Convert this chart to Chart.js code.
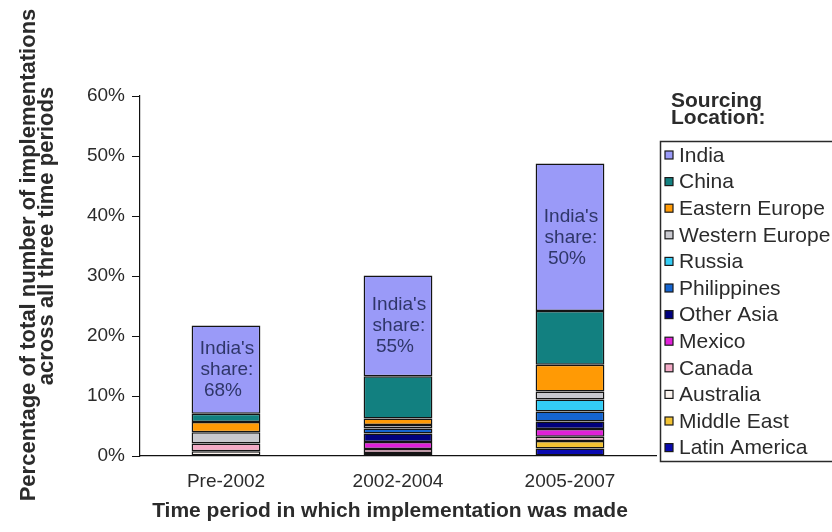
<!DOCTYPE html>
<html>
<head>
<meta charset="utf-8">
<script src="https://cdn.jsdelivr.net/npm/chart.js@4.4.0/dist/chart.umd.min.js"></script>
<style>
  html, body { margin: 0; padding: 0; background: #ffffff; }
  canvas { display: block; }
</style>
</head>
<body>
<canvas id="chart" width="832" height="532"></canvas>
<script>
// Time periods on the x axis
const periods = ['Pre-2002', '2002-2004', '2005-2007'];

// Share of all implementations (percent), one array per sourcing location
const latinAmerica  = [0,    0,    1.25];
const middleEast    = [0,    0,    1.25];
const australia     = [0.8,  0.5,  0];
const canada        = [1.3,  0.65, 0.7];
const mexico        = [0,    1.2,  1.3];
const otherAsia     = [0,    1.4,  1.25];
const philippines   = [0,    0.85, 1.65];
const russia        = [0,    0,    2.0];
const westernEurope = [1.85, 0.55, 1.35];
const easternEurope = [1.7,  1.1,  4.45];
const china         = [1.4,  7.05, 8.95];
const india         = [14.7, 16.8, 24.6];

// India's share of each period, as printed on the bars
const indiaShare = ['68%', '55%', '50%'];

// Y axis ticks
const yTicks = [0, 10, 20, 30, 40, 50, 60];

// Stack order, bottom to top
const series = [
  { name: 'Latin America',  values: latinAmerica,  color: '#0a0ab0' },
  { name: 'Middle East',    values: middleEast,    color: '#f2c233' },
  { name: 'Australia',      values: australia,     color: '#fbf3ee' },
  { name: 'Canada',         values: canada,        color: '#f3aac6' },
  { name: 'Mexico',         values: mexico,        color: '#e020d8' },
  { name: 'Other Asia',     values: otherAsia,     color: '#00007e' },
  { name: 'Philippines',    values: philippines,   color: '#1464d0' },
  { name: 'Russia',         values: russia,        color: '#33ccf5' },
  { name: 'Western Europe', values: westernEurope, color: '#c9c9cf' },
  { name: 'Eastern Europe', values: easternEurope, color: '#ff9a05' },
  { name: 'China',          values: china,         color: '#128080' },
  { name: 'India',          values: india,         color: '#9a9af8' }
];

const FONT = "'Liberation Sans', Arial, Helvetica, sans-serif";
const TEXT = '#2b2b2b';

const datasets = series.map(s => ({
  label: s.name,
  data: s.values.map(v => (v > 0 ? v : null)),
  backgroundColor: s.color,
  borderColor: '#141414',
  borderWidth: 1.5,
  borderSkipped: false,
  barPercentage: 0.4,
  categoryPercentage: 1.0
}));

// Axis titles, legend panel and the India share notes
const annotations = {
  id: 'annotations',
  afterDraw(chart) {
    const ctx = chart.ctx;
    ctx.save();

    // Y axis title (two lines, rotated)
    ctx.fillStyle = TEXT;
    ctx.font = `bold 22px ${FONT}`;
    ctx.textAlign = 'center';
    ctx.textBaseline = 'middle';
    ctx.save();
    ctx.translate(29, 255);
    ctx.rotate(-Math.PI / 2);
    ctx.fillText('Percentage of total number of implementations', 0, 0);
    ctx.restore();
    ctx.save();
    ctx.translate(47, 236);
    ctx.rotate(-Math.PI / 2);
    ctx.fillText('across all three time periods', 0, 0);
    ctx.restore();

    // X axis title
    ctx.font = `bold 21px ${FONT}`;
    ctx.fillText('Time period in which implementation was made', 390, 511);

    // Legend heading
    ctx.font = `bold 21px ${FONT}`;
    ctx.textAlign = 'left';
    ctx.textBaseline = 'alphabetic';
    ctx.fillText('Sourcing', 671, 107);
    ctx.fillText('Location:', 671, 124);

    // Legend frame
    ctx.strokeStyle = '#2a2a2a';
    ctx.lineWidth = 1.5;
    ctx.strokeRect(660.5, 141.5, 200, 320);

    // Legend entries, top of the stack first
    const entries = chart.data.datasets.slice().reverse();
    ctx.font = `21px ${FONT}`;
    ctx.textBaseline = 'middle';
    entries.forEach((ds, i) => {
      const y = 155 + i * 26.6;
      ctx.fillStyle = ds.backgroundColor;
      ctx.fillRect(665, y - 4, 8, 8);
      ctx.strokeStyle = '#1a1a1a';
      ctx.lineWidth = 1.2;
      ctx.strokeRect(665, y - 4, 8, 8);
      ctx.fillStyle = TEXT;
      ctx.fillText(ds.label, 679, y + 1);
    });

    // India's share inside each India segment
    const idx = chart.data.datasets.findIndex(d => d.label === 'India');
    const meta = chart.getDatasetMeta(idx);
    ctx.fillStyle = '#2f3669';
    ctx.font = `19px ${FONT}`;
    ctx.textAlign = 'center';
    meta.data.forEach((bar, i) => {
      const mid = (bar.y + bar.base) / 2;
      const lines = ["India's", 'share:', indiaShare[i]];
      lines.forEach((t, k) => {
        ctx.fillText(t, bar.x + (k === 2 ? -3 : 1), mid + (k - 1) * 21);
      });
    });

    ctx.restore();
  }
};

new Chart(document.getElementById('chart'), {
  type: 'bar',
  data: { labels: periods, datasets },
  options: {
    responsive: false,
    animation: false,
    devicePixelRatio: 1,
    layout: { padding: { left: 0, top: 96, right: 176, bottom: 0 } },
    plugins: {
      legend: { display: false },
      tooltip: { enabled: false }
    },
    scales: {
      x: {
        stacked: true,
        afterFit: s => { s.height = 76; },
        grid: {
          display: true,
          drawOnChartArea: false,
          drawTicks: true,
          tickLength: 6,
          color: c => (c.index === periods.length ? '#111' : 'rgba(0,0,0,0)')
        },
        border: { display: true, color: '#111', width: 1.2 },
        ticks: { color: TEXT, font: { family: FONT, size: 19 }, padding: 8 }
      },
      y: {
        stacked: true,
        min: yTicks[0],
        max: yTicks[yTicks.length - 1],
        afterFit: s => { s.width = 140; },
        afterBuildTicks: s => { s.ticks = yTicks.map(v => ({ value: v })); },
        grid: {
          display: true,
          drawOnChartArea: false,
          drawTicks: true,
          tickLength: 8,
          color: '#111'
        },
        border: { display: true, color: '#111', width: 1.2 },
        ticks: {
          color: TEXT,
          font: { family: FONT, size: 19 },
          padding: 7,
          callback: v => v + '%'
        }
      }
    }
  },
  plugins: [annotations]
});
</script>
</body>
</html>
